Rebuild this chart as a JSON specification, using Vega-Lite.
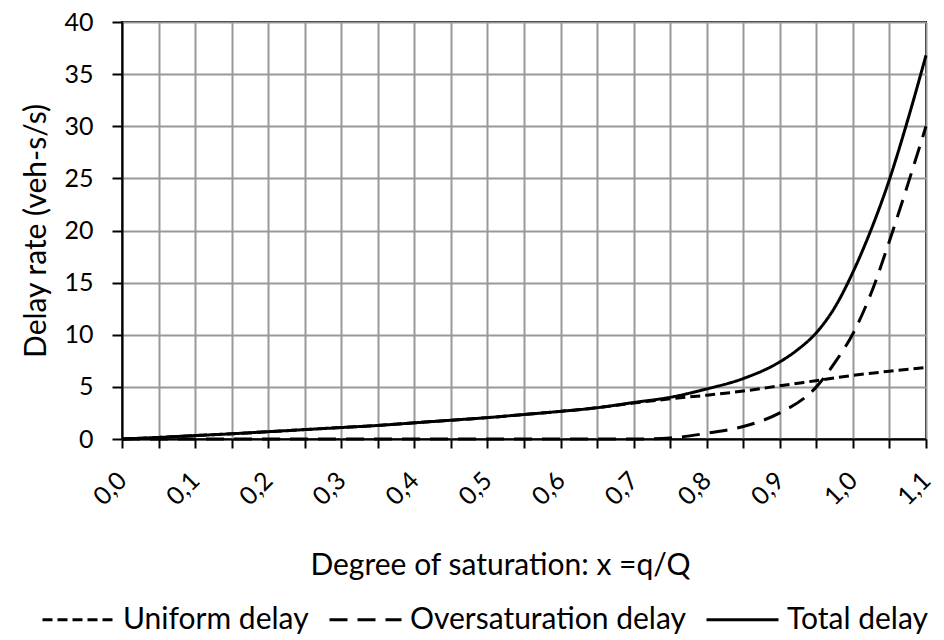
{
  "$schema": "https://vega.github.io/schema/vega-lite/v6.json",
  "width": 804,
  "height": 417,
  "autosize": "none",
  "padding": {"left": 122, "top": 22, "right": 18, "bottom": 201},
  "background": "white",
  "config": {
    "view": {"stroke": "#000", "strokeWidth": 2},
    "font": "Lato"
  },
  "data": {
    "values": [
      {"x": 0.0, "series": "Uniform delay", "v": 0.0},
      {"x": 0.05, "series": "Uniform delay", "v": 0.15},
      {"x": 0.1, "series": "Uniform delay", "v": 0.33},
      {"x": 0.15, "series": "Uniform delay", "v": 0.5},
      {"x": 0.2, "series": "Uniform delay", "v": 0.7},
      {"x": 0.25, "series": "Uniform delay", "v": 0.9},
      {"x": 0.3, "series": "Uniform delay", "v": 1.1},
      {"x": 0.35, "series": "Uniform delay", "v": 1.3},
      {"x": 0.4, "series": "Uniform delay", "v": 1.55},
      {"x": 0.45, "series": "Uniform delay", "v": 1.8},
      {"x": 0.5, "series": "Uniform delay", "v": 2.05},
      {"x": 0.55, "series": "Uniform delay", "v": 2.35},
      {"x": 0.6, "series": "Uniform delay", "v": 2.65},
      {"x": 0.65, "series": "Uniform delay", "v": 3.0},
      {"x": 0.7, "series": "Uniform delay", "v": 3.45},
      {"x": 0.75, "series": "Uniform delay", "v": 3.85},
      {"x": 0.8, "series": "Uniform delay", "v": 4.2},
      {"x": 0.85, "series": "Uniform delay", "v": 4.6},
      {"x": 0.9, "series": "Uniform delay", "v": 5.1},
      {"x": 0.95, "series": "Uniform delay", "v": 5.6},
      {"x": 1.0, "series": "Uniform delay", "v": 6.1},
      {"x": 1.05, "series": "Uniform delay", "v": 6.5},
      {"x": 1.1, "series": "Uniform delay", "v": 6.85},
      {"x": 0.0, "series": "Oversaturation delay", "v": 0.0},
      {"x": 0.1, "series": "Oversaturation delay", "v": 0.0},
      {"x": 0.2, "series": "Oversaturation delay", "v": 0.0},
      {"x": 0.3, "series": "Oversaturation delay", "v": 0.0},
      {"x": 0.4, "series": "Oversaturation delay", "v": 0.0},
      {"x": 0.5, "series": "Oversaturation delay", "v": 0.0},
      {"x": 0.6, "series": "Oversaturation delay", "v": 0.0},
      {"x": 0.7, "series": "Oversaturation delay", "v": 0.0},
      {"x": 0.75, "series": "Oversaturation delay", "v": 0.1},
      {"x": 0.8, "series": "Oversaturation delay", "v": 0.55},
      {"x": 0.85, "series": "Oversaturation delay", "v": 1.2},
      {"x": 0.9, "series": "Oversaturation delay", "v": 2.5},
      {"x": 0.95, "series": "Oversaturation delay", "v": 5.0},
      {"x": 0.975, "series": "Oversaturation delay", "v": 7.3},
      {"x": 1.0, "series": "Oversaturation delay", "v": 10.1},
      {"x": 1.025, "series": "Oversaturation delay", "v": 14.0},
      {"x": 1.05, "series": "Oversaturation delay", "v": 19.0},
      {"x": 1.075, "series": "Oversaturation delay", "v": 24.4},
      {"x": 1.1, "series": "Oversaturation delay", "v": 30.0},
      {"x": 0.0, "series": "Total delay", "v": 0.0},
      {"x": 0.05, "series": "Total delay", "v": 0.15},
      {"x": 0.1, "series": "Total delay", "v": 0.33},
      {"x": 0.15, "series": "Total delay", "v": 0.5},
      {"x": 0.2, "series": "Total delay", "v": 0.7},
      {"x": 0.25, "series": "Total delay", "v": 0.9},
      {"x": 0.3, "series": "Total delay", "v": 1.1},
      {"x": 0.35, "series": "Total delay", "v": 1.3},
      {"x": 0.4, "series": "Total delay", "v": 1.55},
      {"x": 0.45, "series": "Total delay", "v": 1.8},
      {"x": 0.5, "series": "Total delay", "v": 2.05},
      {"x": 0.55, "series": "Total delay", "v": 2.35},
      {"x": 0.6, "series": "Total delay", "v": 2.65},
      {"x": 0.65, "series": "Total delay", "v": 3.0},
      {"x": 0.7, "series": "Total delay", "v": 3.5},
      {"x": 0.75, "series": "Total delay", "v": 4.0},
      {"x": 0.8, "series": "Total delay", "v": 4.8},
      {"x": 0.85, "series": "Total delay", "v": 5.8},
      {"x": 0.9, "series": "Total delay", "v": 7.4},
      {"x": 0.925, "series": "Total delay", "v": 8.6},
      {"x": 0.95, "series": "Total delay", "v": 10.2},
      {"x": 0.975, "series": "Total delay", "v": 12.6},
      {"x": 1.0, "series": "Total delay", "v": 16.0},
      {"x": 1.025, "series": "Total delay", "v": 20.1},
      {"x": 1.05, "series": "Total delay", "v": 24.9},
      {"x": 1.075, "series": "Total delay", "v": 30.6},
      {"x": 1.1, "series": "Total delay", "v": 36.8}
    ]
  },
  "mark": {"type": "line", "interpolate": "monotone", "color": "black", "strokeWidth": 3},
  "encoding": {
    "x": {
      "field": "x",
      "type": "quantitative",
      "scale": {"domain": [0, 1.1], "nice": false},
      "axis": {
        "values": [0, 0.05, 0.1, 0.15, 0.2, 0.25, 0.3, 0.35, 0.4, 0.45, 0.5, 0.55, 0.6, 0.65, 0.7, 0.75, 0.8, 0.85, 0.9, 0.95, 1.0, 1.05, 1.1],
        "labelExpr": "round(datum.value*20)%2==0 ? replace(format(datum.value,'.1f'),'.',',') : ''",
        "labelAngle": -45,
        "labelAlign": "right",
        "labelBaseline": "middle",
        "labelFontSize": 25,
        "labelColor": "#000",
        "labelPadding": 28,
        "labelOverlap": false,
        "labelBound": false,
        "labelFlush": false,
        "tickSize": 9,
        "tickWidth": 2,
        "tickColor": "#000",
        "domainColor": "#000",
        "domainWidth": 2,
        "gridColor": "#999",
        "gridWidth": 2,
        "title": "Degree of saturation: x =q/Q",
        "titleFontSize": 30,
        "titleFontWeight": "normal",
        "titleColor": "#000",
        "titlePadding": 41,
        "titleX": 378
      }
    },
    "y": {
      "field": "v",
      "type": "quantitative",
      "scale": {"domain": [0, 40], "nice": false},
      "axis": {
        "values": [0, 5, 10, 15, 20, 25, 30, 35, 40],
        "labelFontSize": 25,
        "labelColor": "#000",
        "labelPadding": 19,
        "tickSize": 10,
        "tickWidth": 2,
        "tickColor": "#000",
        "domainColor": "#000",
        "domainWidth": 2,
        "gridColor": "#999",
        "gridWidth": 2,
        "title": "Delay rate (veh-s/s)",
        "titleFontSize": 30,
        "titleFontWeight": "normal",
        "titleColor": "#000",
        "titlePadding": 12
      }
    },
    "strokeDash": {
      "field": "series",
      "type": "nominal",
      "scale": {
        "domain": ["Uniform delay", "Oversaturation delay", "Total delay"],
        "range": [[10, 5], [18, 10], [1, 0]]
      },
      "legend": {
        "title": null,
        "orient": "none",
        "direction": "horizontal",
        "legendX": -81,
        "legendY": 560,
        "symbolType": "stroke",
        "symbolSize": 5184,
        "symbolStrokeWidth": 3,
        "symbolStrokeColor": "#000",
        "labelFontSize": 30,
        "labelColor": "#000",
        "labelOffset": 7,
        "columnPadding": 14,
        "labelLimit": 500
      }
    }
  }
}
